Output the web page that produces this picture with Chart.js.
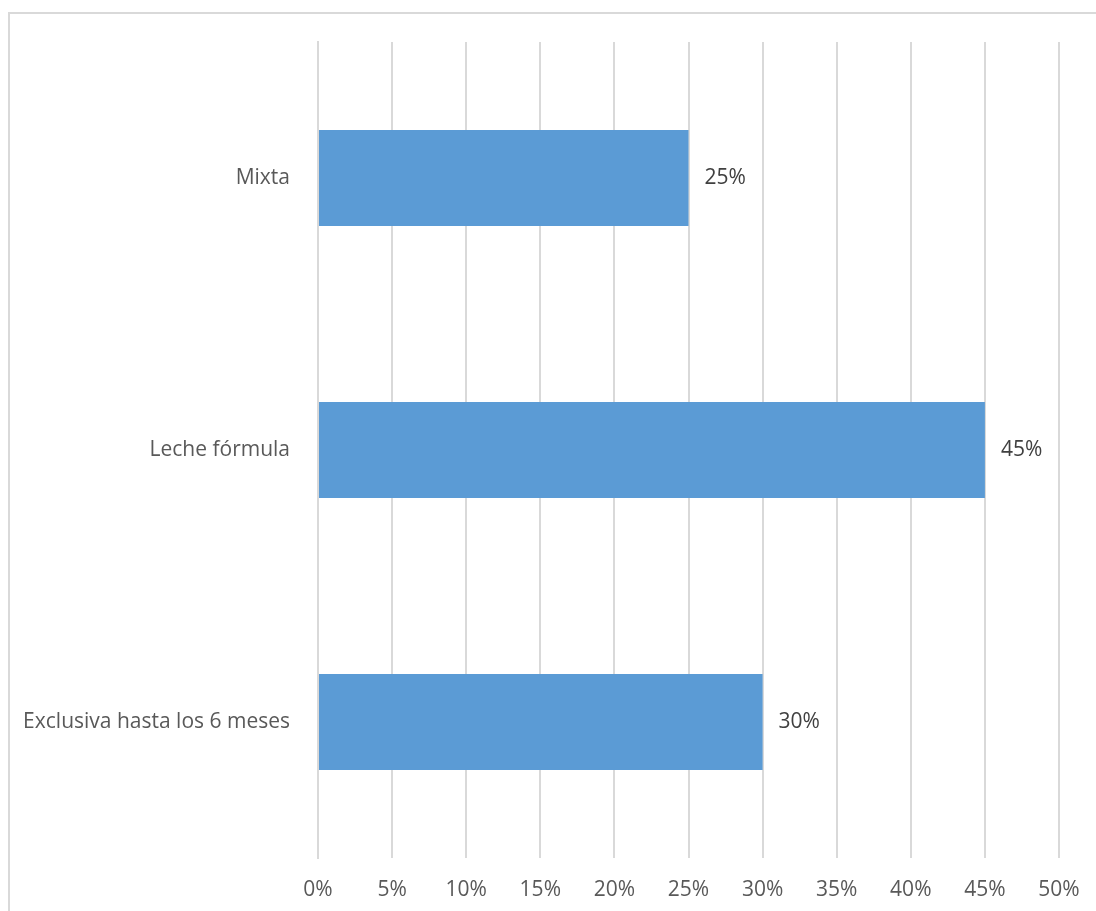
<!DOCTYPE html>
<html>
<head>
<meta charset="utf-8">
<script src="https://cdn.jsdelivr.net/npm/chart.js@4/dist/chart.umd.min.js"></script>
<style>
  html, body { margin: 0; padding: 0; background: #fff; }
  body { width: 1096px; height: 911px; position: relative; overflow: hidden; }
  #frame {
    position: absolute; left: 8px; top: 12px;
    width: 1100px; height: 910px;
    border: 2px solid #d9d9d9; box-sizing: border-box;
  }
  #wrap { position: absolute; left: 0; top: 0; width: 1096px; height: 911px; }
</style>
</head>
<body>
<div id="frame"></div>
<div id="wrap"><canvas id="barChart"></canvas></div>
<script>
const categories = ['Mixta', 'Leche fórmula', 'Exclusiva hasta los 6 meses'];
const percentages = [25, 45, 30];
const tickStep = 5;
const axisMax = 50;

// writes the value next to the end of each bar
const valueLabels = {
  id: 'valueLabels',
  afterDatasetsDraw(chart) {
    const ctx = chart.ctx;
    const meta = chart.getDatasetMeta(0);
    ctx.save();
    ctx.font = '21px "Open Sans"';
    ctx.fillStyle = '#404040';
    ctx.textAlign = 'left';
    ctx.textBaseline = 'middle';
    meta.data.forEach((bar, i) => {
      ctx.fillText(percentages[i] + '%', bar.x + 16, bar.y);
    });
    ctx.restore();
  }
};

const config = {
  type: 'bar',
  data: {
    labels: categories,
    datasets: [{
      data: percentages,
      backgroundColor: '#5b9bd5',
      borderWidth: 0,
      categoryPercentage: 0.353,
      barPercentage: 1
    }]
  },
  options: {
    indexAxis: 'y',
    responsive: true,
    maintainAspectRatio: false,
    animation: false,
    layout: { padding: { top: 42, right: 37, left: 0, bottom: 0 } },
    plugins: {
      legend: { display: false },
      tooltip: { enabled: false }
    },
    scales: {
      x: {
        min: 0,
        max: axisMax,
        ticks: {
          stepSize: tickStep,
          padding: 19,
          color: '#595959',
          font: { family: '"Open Sans"', size: 21 },
          callback: v => v + '%'
        },
        grid: { color: '#d9d9d9', lineWidth: 2, drawTicks: false },
        border: { display: false },
        afterFit: scale => {
          scale.height = 53;
          // let the layout padding decide the right edge
          scale.paddingRight = 0;
        }
      },
      y: {
        ticks: {
          padding: 28,
          color: '#595959',
          font: { family: '"Open Sans"', size: 21 }
        },
        grid: { display: false, drawTicks: false },
        border: { display: true, color: '#d9d9d9', width: 2 },
        afterFit: scale => { scale.width = 318; }
      }
    }
  },
  plugins: [valueLabels]
};

const ctx = document.getElementById('barChart').getContext('2d');
const barChart = new Chart(ctx, config);
</script>
</body>
</html>
